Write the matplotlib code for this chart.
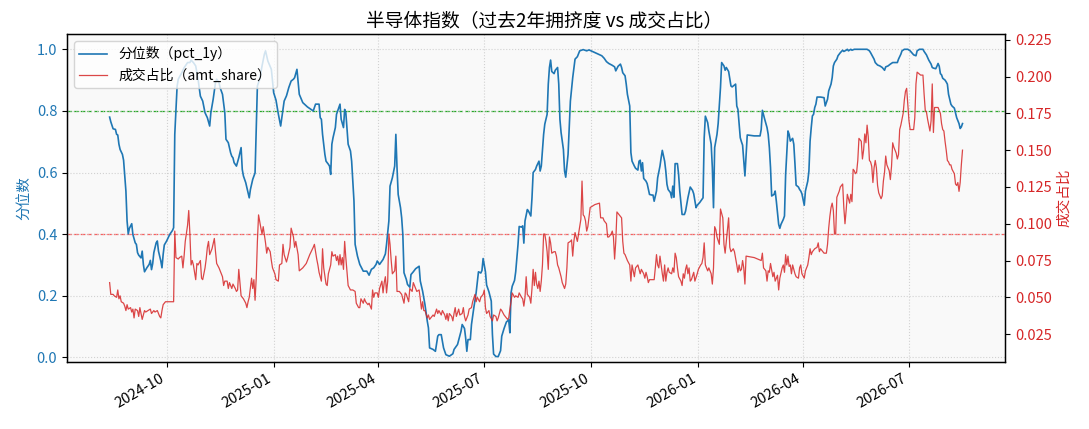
import matplotlib
matplotlib.use('Agg')
import matplotlib.pyplot as plt
import matplotlib.dates as mdates
import pandas as pd

plt.rcParams['font.family'] = ['Noto Sans CJK SC', 'DejaVu Sans']
plt.rcParams['axes.unicode_minus'] = False

# days since 2024-08-13, value
start_date = '2024-08-13'

pct_1y = [
    (0, .780), (1, .765), (3, .742), (5, .740), (6, .724), (7, .722), (8, .692), (9, .675),
    (11, .659), (12, .640), (14, .540), (15, .443), (16, .401), (17, .419), (19, .434), (20, .399),
    (22, .372), (23, .367), (24, .340), (25, .332), (27, .323), (28, .345), (29, .302), (30, .278),
    (32, .291), (34, .302), (35, .315), (36, .285), (37, .304), (38, .340), (40, .372), (41, .378),
    (42, .345), (44, .313), (45, .291), (46, .334), (47, .365), (49, .378), (51, .394), (52, .401),
    (54, .412), (55, .421), (56, .724), (58, .880), (59, .903), (62, .924), (64, .940), (67, .957),
    (69, .957), (70, .965), (72, .957), (74, .946), (76, .903), (78, .848), (80, .832), (82, .794),
    (84, .778), (86, .751), (87, .794), (89, .838), (91, .892), (92, .903), (94, .892), (95, .875),
    (97, .854), (99, .794), (100, .708), (102, .697), (104, .664), (105, .653), (106, .648), (107, .632),
    (109, .621), (111, .648), (113, .681), (114, .610), (115, .589), (117, .567), (118, .551), (120, .518),
    (121, .545), (123, .578), (125, .599), (126, .740), (127, .881), (129, .903), (131, .946), (133, .984),
    (134, .995), (136, .962), (139, .935), (141, .859), (143, .835), (145, .790), (147, .751), (150, .832),
    (152, .849), (154, .876), (156, .897), (158, .903), (159, .908), (161, .935), (163, .854), (166, .827),
    (170, .813), (175, .800), (177, .822), (180, .822), (181, .778), (182, .773), (183, .724), (185, .659),
    (186, .637), (188, .627), (189, .621), (190, .594), (191, .692), (192, .713), (194, .746), (195, .789),
    (196, .800), (198, .822), (199, .773), (201, .746), (202, .805), (203, .795), (205, .692), (207, .670),
    (208, .637), (210, .508), (211, .367), (213, .329), (215, .302), (218, .280), (221, .280), (223, .267),
    (225, .286), (227, .291), (229, .302), (230, .313), (232, .302), (235, .318), (237, .336), (238, .367),
    (240, .443), (241, .556), (243, .583), (245, .621), (246, .724), (247, .616), (248, .529), (250, .486),
    (251, .453), (252, .399), (253, .275), (255, .253), (256, .237), (258, .228), (259, .269), (261, .278),
    (263, .288), (266, .296), (267, .248), (269, .215), (271, .172), (273, .118), (274, .096), (275, .031),
    (278, .026), (280, .020), (282, .069), (283, .074), (285, .074), (287, .031), (289, .009), (292, .004),
    (295, .012), (296, .026), (299, .042), (302, .085), (303, .107), (305, .094), (306, .063), (307, .020),
    (308, .058), (310, .058), (311, .107), (313, .161), (315, .210), (317, .278), (319, .274), (320, .282),
    (321, .321), (323, .278), (324, .235), (326, .213), (328, .183), (329, .074), (330, .011), (332, .003),
    (334, .003), (336, .022), (337, .069), (339, .094), (341, .115), (343, .122), (344, .080), (345, .210),
    (346, .231), (348, .250), (349, .278), (351, .367), (352, .425), (354, .423), (355, .427), (356, .371),
    (357, .443), (359, .480), (360, .475), (362, .459), (363, .518), (364, .600), (366, .610), (367, .621),
    (369, .637), (370, .605), (371, .621), (373, .724), (374, .757), (376, .789), (377, .887), (378, .941),
    (379, .965), (380, .928), (382, .921), (383, .932), (385, .941), (386, .887), (387, .773), (388, .730),
    (390, .675), (391, .605), (392, .585), (394, .659), (395, .746), (396, .832), (398, .908), (400, .968),
    (402, .976), (404, .995), (407, .999), (410, .995), (412, .998), (415, .993), (419, .986), (423, .979),
    (425, .971), (427, .960), (429, .954), (432, .948), (434, .943), (435, .930), (437, .945), (439, .952),
    (440, .941), (441, .924), (443, .914), (444, .887), (445, .854), (447, .816), (448, .665), (449, .637),
    (451, .621), (452, .614), (454, .608), (455, .637), (456, .640), (457, .605), (458, .632), (459, .581),
    (461, .572), (462, .564), (464, .529), (466, .527), (467, .527), (468, .507), (470, .540), (471, .583),
    (473, .621), (474, .648), (475, .672), (477, .637), (478, .605), (479, .562), (480, .545), (482, .535),
    (483, .518), (484, .556), (485, .520), (486, .629), (488, .629), (489, .594), (490, .540), (492, .464),
    (494, .464), (495, .475), (497, .518), (499, .553), (501, .542), (502, .531), (504, .486), (505, .494),
    (507, .502), (510, .518), (511, .713), (512, .783), (514, .762), (515, .735), (517, .692), (518, .616),
    (519, .486), (520, .681), (522, .724), (523, .759), (525, .876), (526, .957), (528, .946), (529, .932),
    (530, .941), (532, .928), (534, .881), (535, .878), (538, .887), (539, .816), (540, .805), (542, .713),
    (543, .700), (544, .689), (546, .589), (548, .722), (554, .719), (559, .719), (560, .740), (561, .802),
    (563, .773), (565, .746), (566, .724), (567, .681), (568, .616), (569, .524), (571, .529), (572, .540),
    (573, .507), (574, .470), (575, .432), (576, .419), (577, .432), (579, .448), (580, .459), (581, .594),
    (583, .735), (584, .724), (585, .702), (587, .711), (588, .692), (589, .629), (590, .559), (592, .553),
    (593, .545), (594, .540), (595, .531), (597, .494), (598, .540), (600, .572), (601, .605), (602, .702),
    (603, .746), (604, .784), (605, .789), (606, .811), (607, .822), (608, .845), (611, .845), (614, .843),
    (615, .816), (617, .838), (618, .865), (620, .887), (621, .908), (622, .946), (623, .957), (625, .968),
    (626, .979), (628, .989), (630, .997), (631, .993), (633, .997), (634, 1.0), (635, .995), (637, 1.0),
    (638, .997), (640, 1.0), (651, 1.0), (653, .995), (654, .989), (655, .982), (657, .968), (658, .957),
    (660, .949), (662, .946), (664, .941), (666, .932), (667, .943), (669, .946), (671, .952), (673, .957),
    (677, .957), (678, .968), (680, .984), (681, .995), (683, 1.0), (686, 1.0), (688, .995), (690, .986),
    (691, .982), (693, .979), (694, .995), (696, 1.0), (699, 1.0), (700, .993), (702, .982), (704, .965),
    (706, .952), (707, .941), (708, .939), (710, .937), (711, .945), (712, .954), (713, .945), (714, .921),
    (715, .917), (716, .906), (718, .900), (719, .894), (720, .887), (721, .854), (723, .822), (724, .816),
    (726, .809), (727, .794), (728, .778), (730, .759), (731, .743), (732, .748), (733, .759),
]

amt_share = [
    (0, .060), (1, .052), (3, .052), (4, .051), (6, .050), (7, .055), (8, .049), (9, .051),
    (10, .047), (12, .046), (13, .044), (14, .041), (15, .045), (16, .042), (18, .043), (19, .040),
    (20, .042), (21, .036), (22, .042), (24, .041), (25, .037), (26, .043), (27, .039), (28, .035),
    (30, .041), (31, .040), (33, .041), (35, .042), (36, .039), (38, .041), (39, .040), (41, .041),
    (43, .037), (44, .036), (45, .041), (46, .045), (48, .047), (55, .047), (56, .095), (57, .077),
    (59, .076), (60, .077), (62, .078), (63, .070), (64, .078), (65, .088), (67, .099), (68, .109),
    (69, .093), (70, .072), (71, .075), (72, .072), (74, .062), (75, .073), (76, .072), (78, .075),
    (79, .063), (80, .062), (82, .070), (83, .076), (84, .084), (85, .088), (86, .079), (88, .083),
    (90, .090), (91, .081), (92, .073), (94, .070), (95, .068), (97, .064), (98, .058), (99, .061),
    (101, .061), (102, .056), (103, .060), (105, .056), (106, .059), (108, .056), (109, .054), (110, .055),
    (111, .069), (113, .051), (114, .050), (115, .049), (117, .046), (118, .043), (119, .047), (120, .050),
    (122, .063), (123, .056), (124, .062), (125, .048), (126, .063), (127, .088), (128, .106), (130, .097),
    (131, .093), (132, .098), (134, .087), (135, .080), (136, .084), (138, .081), (139, .075), (140, .070),
    (142, .066), (143, .062), (145, .061), (146, .072), (148, .073), (149, .086), (150, .079), (152, .074),
    (153, .077), (155, .084), (156, .097), (158, .091), (159, .084), (160, .088), (162, .079), (163, .068),
    (166, .070), (169, .073), (172, .079), (175, .084), (176, .086), (178, .076), (179, .072), (180, .067),
    (182, .061), (183, .083), (184, .070), (186, .059), (187, .058), (188, .066), (190, .072), (191, .081),
    (192, .078), (194, .079), (195, .075), (196, .078), (197, .072), (198, .079), (199, .072), (200, .077),
    (201, .069), (202, .088), (203, .077), (205, .058), (207, .055), (209, .055), (211, .054), (212, .046),
    (214, .043), (215, .043), (216, .049), (218, .046), (219, .049), (220, .047), (222, .045), (223, .046),
    (225, .042), (226, .055), (227, .050), (228, .053), (230, .053), (231, .050), (232, .056), (234, .061),
    (235, .053), (236, .060), (237, .064), (238, .053), (239, .061), (240, .093), (241, .086), (242, .075),
    (243, .066), (245, .068), (246, .078), (247, .054), (249, .054), (251, .052), (253, .046), (254, .053),
    (255, .052), (257, .047), (258, .056), (260, .054), (261, .060), (263, .056), (264, .054), (266, .055),
    (267, .049), (268, .042), (269, .047), (270, .041), (271, .041), (273, .036), (274, .038), (275, .035),
    (276, .036), (278, .038), (279, .037), (281, .042), (282, .039), (283, .041), (285, .038), (286, .041),
    (288, .038), (289, .035), (290, .039), (291, .034), (292, .039), (294, .037), (295, .034), (296, .039),
    (297, .043), (298, .037), (300, .042), (301, .038), (303, .039), (304, .043), (305, .037), (306, .034),
    (308, .038), (309, .042), (311, .043), (312, .047), (314, .052), (315, .047), (316, .050), (318, .047),
    (319, .050), (321, .052), (322, .055), (323, .043), (324, .039), (326, .041), (327, .037), (329, .034),
    (330, .038), (332, .037), (333, .034), (334, .036), (336, .042), (337, .041), (339, .038), (340, .037),
    (342, .035), (343, .036), (344, .042), (345, .047), (346, .053), (348, .050), (349, .051), (351, .050),
    (352, .053), (354, .050), (355, .049), (356, .044), (357, .050), (358, .064), (359, .052), (361, .050),
    (362, .046), (363, .056), (364, .069), (365, .058), (366, .067), (367, .059), (368, .056), (369, .061),
    (370, .054), (371, .061), (372, .072), (373, .093), (374, .093), (375, .088), (376, .081), (377, .069),
    (378, .091), (379, .087), (380, .080), (382, .081), (383, .081), (384, .078), (385, .072), (386, .070),
    (388, .064), (389, .060), (391, .056), (392, .059), (393, .070), (394, .087), (396, .088), (397, .089),
    (398, .078), (399, .088), (400, .094), (402, .088), (403, .093), (404, .098), (405, .103), (406, .129),
    (407, .106), (408, .105), (409, .102), (410, .095), (411, .098), (413, .111), (417, .113), (421, .114),
    (422, .104), (424, .104), (425, .102), (427, .100), (428, .091), (429, .091), (431, .093), (432, .095),
    (433, .091), (434, .076), (435, .088), (436, .108), (438, .106), (440, .104), (441, .088), (442, .080),
    (443, .079), (445, .075), (447, .072), (448, .061), (449, .072), (450, .068), (451, .064), (452, .070),
    (454, .072), (455, .069), (456, .066), (457, .069), (459, .066), (460, .063), (461, .067), (462, .064),
    (463, .060), (464, .062), (468, .062), (469, .070), (470, .079), (471, .072), (472, .070), (473, .078),
    (474, .072), (475, .066), (476, .061), (477, .072), (478, .061), (479, .067), (480, .070), (481, .067),
    (483, .066), (484, .070), (485, .067), (486, .080), (487, .077), (488, .070), (489, .064), (491, .061),
    (492, .058), (493, .066), (494, .063), (495, .069), (496, .072), (497, .066), (498, .070), (499, .061),
    (500, .062), (502, .067), (503, .061), (505, .066), (506, .069), (508, .072), (509, .073), (510, .077),
    (511, .087), (512, .072), (514, .068), (515, .070), (517, .066), (518, .059), (519, .070), (520, .098),
    (521, .096), (522, .091), (524, .086), (525, .110), (527, .104), (528, .086), (529, .080), (530, .088),
    (532, .104), (533, .084), (534, .081), (536, .083), (537, .081), (539, .072), (540, .067), (541, .072),
    (542, .068), (543, .069), (544, .075), (545, .070), (546, .059), (547, .078), (554, .077), (560, .075),
    (561, .080), (562, .070), (564, .068), (565, .061), (566, .068), (567, .067), (568, .073), (570, .064),
    (571, .067), (572, .061), (574, .065), (575, .055), (576, .063), (578, .070), (579, .072), (580, .067),
    (581, .079), (582, .072), (583, .078), (584, .071), (585, .072), (586, .066), (587, .072), (589, .066),
    (590, .064), (592, .063), (593, .070), (594, .072), (595, .066), (597, .063), (598, .068), (600, .072),
    (601, .077), (602, .083), (603, .079), (604, .081), (606, .083), (608, .084), (609, .087), (610, .081),
    (611, .083), (613, .081), (614, .080), (616, .080), (617, .086), (618, .097), (619, .105), (620, .111),
    (621, .114), (622, .109), (623, .093), (624, .093), (625, .118), (626, .120), (627, .122), (628, .125),
    (630, .127), (631, .111), (632, .100), (633, .109), (634, .120), (636, .114), (637, .120), (638, .115),
    (639, .137), (640, .136), (641, .134), (642, .135), (643, .143), (644, .158), (646, .156), (647, .144),
    (648, .150), (649, .161), (650, .155), (651, .167), (652, .159), (653, .143), (654, .142), (655, .139),
    (656, .128), (657, .138), (658, .143), (659, .138), (660, .126), (661, .121), (663, .117), (664, .119),
    (665, .129), (666, .135), (667, .146), (668, .140), (670, .136), (671, .130), (672, .139), (673, .155),
    (674, .152), (676, .148), (677, .144), (678, .147), (679, .164), (680, .167), (682, .175), (683, .184),
    (684, .190), (685, .192), (686, .181), (687, .170), (688, .164), (691, .164), (692, .172), (693, .195),
    (694, .203), (697, .201), (699, .201), (700, .188), (701, .177), (702, .176), (703, .171), (704, .167),
    (705, .163), (706, .170), (707, .195), (708, .162), (709, .179), (712, .179), (714, .175), (715, .168),
    (716, .164), (717, .163), (718, .156), (719, .150), (720, .143), (721, .142), (722, .140), (723, .140),
    (724, .137), (726, .134), (727, .127), (728, .126), (729, .128), (730, .122), (731, .128), (732, .140),
    (733, .150),
]

hi_line = 0.8
lo_line = 0.4


def to_series(points):
    days, vals = zip(*points)
    idx = pd.Timestamp(start_date) + pd.to_timedelta(list(days), unit='D')
    return pd.Series(vals, index=idx)


pct = to_series(pct_1y)
amt = to_series(amt_share)

fig, ax = plt.subplots(figsize=(10.89, 4.29), dpi=100)
fig.subplots_adjust(left=0.0615, right=0.923, bottom=0.156, top=0.921)
ax.set_facecolor('#f9f9f9')
ax2 = ax.twinx()

l1, = ax.plot(pct.index, pct.values, color='tab:blue', lw=1.2, label='分位数（pct_1y）')
l2, = ax2.plot(amt.index, amt.values, color='tab:red', lw=0.9, alpha=0.85, label='成交占比（amt_share）')
ax.axhline(hi_line, color='#22aa22', ls='--', lw=0.9, zorder=1.5)
ax.axhline(lo_line, color='#ff3333', ls='--', lw=0.9, alpha=0.8, zorder=1.5)

ax.set_ylim(-0.015, 1.05)
ax2.set_ylim(0.006, 0.229)
ax.set_ylabel('分位数', color='tab:blue', fontsize=10.5)
ax2.set_ylabel('成交占比', color='tab:red', fontsize=10.5)
ax.tick_params(axis='y', labelcolor='tab:blue', labelsize=10.5)
ax2.tick_params(axis='y', labelcolor='tab:red', labelsize=10.5)
ax.tick_params(axis='x', labelsize=10.5)
ax.grid(True, ls=':', color='#c8c8c8', alpha=0.8)
for sp in ax2.spines.values():
    sp.set_linewidth(1.0)

ax.xaxis.set_major_locator(mdates.MonthLocator(bymonth=[1, 4, 7, 10]))
ax.xaxis.set_major_formatter(mdates.DateFormatter('%Y-%m'))
for lab in ax.get_xticklabels():
    lab.set_rotation(30)
    lab.set_ha('right')

fig.suptitle('半导体指数（过去2年拥挤度 vs 成交占比）', fontsize=13.5, y=0.975)
ax2.legend([l1, l2], [l1.get_label(), l2.get_label()], loc='upper left', fontsize=10)

fig.savefig('out.png', dpi=100)
